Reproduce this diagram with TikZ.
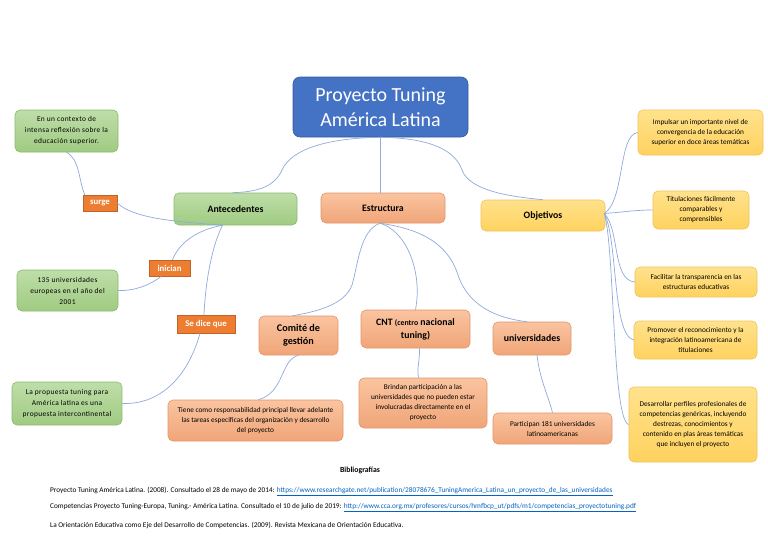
\documentclass[tikz,border=0pt]{standalone}
\usepackage{fontspec}
\setmainfont{Carlito}
\newfontfamily\lsfont[LetterSpace=5]{Carlito}
\usetikzlibrary{calc}
\definecolor{lnk}{RGB}{143,170,220}
\definecolor{grnT}{RGB}{190,222,168}
\definecolor{grnB}{RGB}{160,203,130}
\definecolor{grnD}{RGB}{140,185,110}
\definecolor{salT}{RGB}{250,196,160}
\definecolor{salB}{RGB}{240,165,120}
\definecolor{salD}{RGB}{225,150,110}
\definecolor{yelT}{RGB}{255,226,140}
\definecolor{yelB}{RGB}{255,210,95}
\definecolor{yelD}{RGB}{240,195,90}
\definecolor{orng}{RGB}{237,125,49}
\definecolor{ttl}{RGB}{68,114,196}
\definecolor{urlc}{RGB}{5,99,193}
\begin{document}
\begin{tikzpicture}[x=1pt,y=-1pt,
  bx/.style={rounded corners=5pt, align=center, inner sep=2pt, line width=0.6pt},
  gbox/.style={bx, draw=grnD, top color=grnT, bottom color=grnB},
  sbox/.style={bx, draw=salD, top color=salT, bottom color=salB},
  ybox/.style={bx, draw=yelD, top color=yelT, bottom color=yelB},
  lbl/.style={draw=orng!80!black, fill=orng, text=white, font=\fontsize{8.8}{10}\selectfont\bfseries, inner sep=1pt, line width=0.5pt},
  sm/.style={font=\fontsize{7.3}{10}\selectfont},
  gsm/.style={font=\fontsize{7.4}{11}\lsfont},
  md/.style={font=\fontsize{9.8}{12}\selectfont\bfseries},
  cn/.style={draw=lnk, line width=0.7pt},
  ref/.style={anchor=west, inner sep=0pt, font=\fontsize{7.3}{8}\selectfont}
]
\useasboundingbox (0,0) rectangle (768,543);
\fill[white] (0,0) rectangle (768,543);

% title
\node[bx, rounded corners=7pt, draw=ttl!80!black, fill=ttl, text=white, minimum width=175, minimum height=60,
  font=\fontsize{20}{25}\selectfont] (title) at (380.5,107) {Proyecto Tuning\\América Latina};

% main branches
\node[gbox, md, minimum width=123, minimum height=32] (ant) at (235.5,209) {Antecedentes};
\node[sbox, md, minimum width=124, minimum height=30] (est) at (383,208) {Estructura};
\node[ybox, md, minimum width=124, minimum height=31] (obj) at (543,215.5) {Objetivos};

% antecedentes
\node[gbox, gsm, minimum width=103, minimum height=42] (ctx) at (66.5,131) {En un contexto de\\intensa reflexión sobre la\\educación superior.};
\node[lbl, minimum width=34, minimum height=16] (surge) at (100,203) {surge};
\node[lbl, minimum width=41, minimum height=16] (inic) at (169.5,268) {inician};
\node[gbox, gsm, minimum width=101, minimum height=41] (u135) at (67.5,290.5) {135 universidades\\europeas en el año del\\2001};
\node[lbl, minimum width=58, minimum height=18] (sedice) at (206,324) {Se dice que};
\node[gbox, gsm, minimum width=110, minimum height=43] (prop) at (67,403.5) {La propuesta tuning para\\América latina es una\\propuesta intercontinental};

% estructura
\node[sbox, font=\fontsize{10.2}{13}\selectfont\bfseries, minimum width=79, minimum height=39] (com) at (298.5,335.5) {Comité de\\gestión};
\node[sbox, font=\fontsize{9.8}{13}\selectfont\bfseries, minimum width=109, minimum height=38] (cnt) at (415.5,329) {CNT {\fontsize{7.8}{9}\selectfont(centro} nacional\\tuning)};
\node[sbox, md, minimum width=78, minimum height=33] (univ) at (532,338.5) {universidades};
\node[sbox, sm, minimum width=175, minimum height=41] (tiene) at (255.5,420.5) {Tiene como responsabilidad principal llevar adelante\\las tareas especificas del organización y desarrollo\\del proyecto};
\node[sbox, sm, minimum width=128, minimum height=50] (brin) at (423,403) {Brindan participación a las\\universidades que no pueden estar\\involucradas directamente en el\\proyecto};
\node[sbox, sm, minimum width=119, minimum height=31] (part) at (552.5,428.5) {Participan 181 universidades\\latinoamericanas};

% objetivos
\node[ybox, sm, minimum width=125, minimum height=45] (imp) at (700.5,132.5) {Impulsar un importante nivel de\\convergencia de la educación\\superior en doce áreas temáticas};
\node[ybox, sm, minimum width=96, minimum height=38] (tit) at (701,210) {Titulaciones fácilmente\\comparables y\\comprensibles};
\node[ybox, sm, minimum width=122, minimum height=30] (fac) at (696,282) {Facilitar la transparencia en las\\estructuras educativas};
\node[ybox, sm, minimum width=123, minimum height=38] (pro) at (695.5,340) {Promover el reconocimiento y la\\integración latinoamericana de\\titulaciones};
\node[ybox, sm, minimum width=128, minimum height=75] (des) at (693,424.5) {Desarrollar perfiles profesionales de\\competencias genéricas, incluyendo\\destrezas, conocimientos y\\contenido en plas áreas temáticas\\que incluyen el proyecto};

% connector anchor points
\coordinate (ts) at (title.south);
\coordinate (antT) at ($(ant.north)+(-3,0)$);
\coordinate (antB) at ($(ant.south)+(-13,0)$);
\coordinate (estB) at ($(est.south)+(-3,0)$);
\coordinate (objE) at ($(obj.east)+(-1,-2)$);

% title connectors
\draw[cn] (ts) .. controls (330,138) and (292,148) .. (282,170) .. controls (274,188) and (255,192) .. (antT);
\draw[cn] (ts) -- (est.north -| ts);
\draw[cn] (ts) .. controls (430,138) and (455,150) .. (462,170) .. controls (470,192) and (515,197) .. (obj.north);

% antecedentes connectors
\draw[cn] (antB) .. controls (185,222) and (135,220) .. (surge.east);
\draw[cn] ($(surge.north west)+(2,0)$) .. controls (78,178) and (80,160) .. (ctx.south);
\draw[cn] (antB) .. controls (195,230) and (178,245) .. ($(inic.north)+(3,0)$);
\draw[cn] ($(inic.south)+(-8,0)$) .. controls (150,285) and (135,291) .. (u135.east);
\draw[cn] (antB) .. controls (210,250) and (205,290) .. ($(sedice.north)+(-2,0)$);
\draw[cn] ($(sedice.south)+(-6,0)$) .. controls (190,370) and (165,405) .. (prop.east);

% estructura connectors
\draw[cn] (estB) .. controls (360,230) and (358,265) .. (352,285) .. controls (345,305) and (315,312) .. ($(com.north)+(-6,0)$);
\draw[cn] (estB) .. controls (405,230) and (423,270) .. (cnt.north);
\draw[cn] (estB) .. controls (430,230) and (450,250) .. (458,275) .. controls (468,305) and (495,318) .. ($(univ.north)+(-5,0)$);
\draw[cn] (com.south) .. controls (280,360) and (285,392) .. ($(tiene.north)+(3,0)$);
\draw[cn] ($(cnt.south)+(4,0)$) .. controls (420,360) and (416,372) .. ($(brin.north)+(-4,0)$);
\draw[cn] ($(univ.south)+(5,0)$) .. controls (540,380) and (548,395) .. (part.north);

% objetivos connectors
\draw[cn] (objE) .. controls (625,200) and (618,135) .. (imp.west);
\draw[cn] (objE) .. controls (625,212) and (635,210) .. (tit.west);
\draw[cn] (objE) .. controls (620,230) and (612,280) .. (fac.west);
\draw[cn] (objE) .. controls (618,240) and (612,335) .. (pro.west);
\draw[cn] (objE) .. controls (615,250) and (612,420) .. (des.west);

% bibliography
\node[font=\fontsize{7.8}{9}\selectfont\bfseries] (bib) at (360,470) {Bibliografías};
\node[ref] (r1) at (50,491) {Proyecto Tuning América Latina. (2008). Consultado el 28 de mayo de 2014: \textcolor{urlc}{\underline{https://www.researchgate.net/publication/28078676\_TuningAmerica\_Latina\_un\_proyecto\_de\_las\_universidades}}};
\node[ref] (r2) at (50,508) {Competencias Proyecto Tuning-Europa, Tuning.- América Latina. Consultado el 10 de julio de 2019: \textcolor{urlc}{\underline{http://www.cca.org.mx/profesores/cursos/hmfbcp\_ut/pdfs/m1/competencias\_proyectotuning.pdf}}};
\node[ref] (r3) at (50,525) {La Orientación Educativa como Eje del Desarrollo de Competencias. (2009). Revista Mexicana de Orientación Educativa.};
\end{tikzpicture}
\end{document}
